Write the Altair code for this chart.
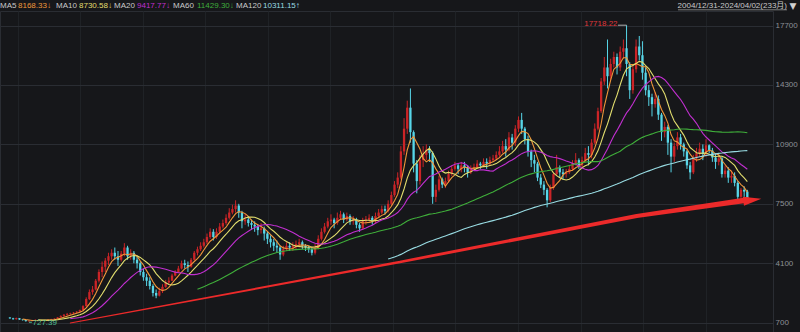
import altair as alt
import pandas as pd

# ---------------- data (monthly candles 2004/12 .. 2024/03) ----------------
first_open = 1000
closes_2004 = [950]
closes_2005 = [900, 960, 880, 850, 790, 800, 830, 860, 850, 820, 840, 870]
closes_2006 = [900, 930, 1000, 1080, 1150, 1200, 1230, 1280, 1330, 1420, 1650, 2050]
closes_2007 = [2450, 2600, 3100, 3600, 3900, 4250, 4500, 4700, 4500, 4300, 4650, 5000]
closes_2008 = [4500, 4700, 4300, 4100, 3600, 3300, 3100, 2800, 2400, 2250, 2500, 2750]
closes_2009 = [3000, 3100, 3400, 3600, 3800, 4100, 4000, 3900, 4300, 4700, 4900, 5100]
closes_2010 = [5300, 5600, 5900, 5600, 5900, 6200, 6400, 6700, 7000, 7200, 7400, 7000]
closes_2011 = [6500, 6600, 6400, 6300, 6200, 6000, 6100, 5800, 5500, 5300, 5100, 5000]
closes_2012 = [4600, 4900, 5100, 5000, 5100, 5200, 5300, 5100, 5000, 4900, 4700, 5000]
closes_2013 = [5500, 5900, 6200, 6500, 6600, 6400, 6700, 6900, 6600, 6800, 6500, 6600]
closes_2014 = [6300, 6100, 6500, 6600, 6700, 6500, 6800, 7000, 7200, 7100, 7500, 8000]
closes_2015 = [8600, 9000, 10500, 11800, 13000, 11600, 9800, 8800, 10000, 10300, 10600, 10400]
closes_2016 = [7900, 8300, 8900, 8600, 8800, 9200, 9500, 9700, 9500, 9700, 9600, 9300]
closes_2017 = [9500, 9600, 9800, 9700, 9900, 9800, 10000, 10100, 10300, 10500, 10800, 10600]
closes_2018 = [11300, 11000, 11800, 12300, 11800, 11200, 10500, 10000, 9800, 9000, 8600, 8300]
closes_2019 = [7700, 8400, 9200, 9600, 9300, 9200, 9300, 9500, 9800, 10000, 9700, 10000]
closes_2020 = [10400, 10300, 11000, 11800, 12800, 14500, 15300, 14800, 15500, 15900, 15300, 16200]
closes_2021 = [16400, 15500, 14000, 15200, 16500, 16000, 15000, 14000, 13600, 13200, 13500, 12600]
closes_2022 = [11600, 11900, 11000, 10200, 10800, 11300, 10900, 10500, 9700, 9300, 10100, 10400]
closes_2023 = [10650, 10350, 10850, 10550, 10150, 9900, 10100, 9200, 9400, 9000, 9100, 8700]
closes_2024 = [7900, 8300, 8200, 7750]

highs_2004 = [1010]
highs_2005 = [980, 990, 970, 900, 860, 850, 860, 890, 880, 860, 860, 900]
highs_2006 = [920, 950, 1020, 1120, 1200, 1260, 1270, 1310, 1360, 1450, 1700, 2150]
highs_2007 = [2600, 2800, 3200, 3750, 4200, 4400, 4700, 4900, 5000, 4800, 4800, 5250]
highs_2008 = [5100, 4900, 4800, 4500, 4200, 3800, 3500, 3300, 2900, 2600, 2700, 2900]
highs_2009 = [3150, 3300, 3500, 3700, 3950, 4250, 4300, 4200, 4400, 4800, 5050, 5300]
highs_2010 = [5500, 5800, 6100, 6050, 6100, 6400, 6600, 6900, 7250, 7450, 7700, 7500]
highs_2011 = [7100, 6900, 6800, 6600, 6500, 6300, 6400, 6200, 5900, 5700, 5500, 5400]
highs_2012 = [5100, 5100, 5300, 5300, 5300, 5400, 5500, 5400, 5200, 5100, 5000, 5200]
highs_2013 = [5700, 6100, 6400, 6700, 6900, 6700, 7000, 7100, 7000, 7000, 6900, 6800]
highs_2014 = [6700, 6400, 6700, 6800, 6900, 6800, 7000, 7200, 7400, 7400, 7700, 8200]
highs_2015 = [8800, 9300, 10800, 12400, 13400, 14100, 11700, 10000, 10300, 10800, 10900, 10800]
highs_2016 = [10500, 8600, 9100, 9000, 9000, 9400, 9700, 9900, 9800, 9900, 9900, 9700]
highs_2017 = [9700, 9800, 10000, 9900, 10100, 10100, 10200, 10300, 10500, 10800, 11100, 11200]
highs_2018 = [11600, 11500, 12000, 12500, 12700, 11900, 11400, 10600, 10300, 9900, 9200, 8800]
highs_2019 = [8400, 8600, 9300, 10300, 9700, 9500, 9500, 9700, 10000, 10400, 10100, 10200]
highs_2020 = [10700, 10800, 11200, 12100, 13000, 14700, 15900, 16900, 15800, 16200, 16100, 16500]
highs_2021 = [16900, 17718.22, 15600, 15400, 16900, 17100, 16800, 15300, 14300, 13800, 13900, 13700]
highs_2022 = [12700, 12200, 12000, 11200, 11000, 11600, 11500, 11000, 10600, 9900, 10300, 10700]
highs_2023 = [11000, 10900, 11200, 10900, 10700, 10400, 10300, 10200, 9700, 9600, 9400, 9300]
highs_2024 = [8800, 8400, 8500, 8300]

lows_2004 = [920]
lows_2005 = [870, 880, 860, 820, 760, 727.39, 780, 820, 820, 800, 800, 830]
lows_2006 = [850, 880, 920, 990, 1050, 1110, 1150, 1190, 1250, 1300, 1400, 1620]
lows_2007 = [2000, 2300, 2550, 3000, 3300, 3600, 4000, 4300, 4300, 3950, 4200, 4500]
lows_2008 = [4300, 4300, 4100, 3800, 3400, 3100, 2800, 2600, 2200, 2100, 2200, 2400]
lows_2009 = [2700, 2900, 3100, 3350, 3550, 3750, 3800, 3600, 3850, 4250, 4550, 4800]
lows_2010 = [5000, 5200, 5500, 5400, 5500, 5800, 6100, 6300, 6600, 6900, 7000, 6700]
lows_2011 = [6100, 6300, 6200, 6000, 5900, 5700, 5800, 5400, 5200, 5000, 4800, 4700]
lows_2012 = [4300, 4500, 4800, 4800, 4800, 4900, 5000, 4900, 4800, 4700, 4550, 4600]
lows_2013 = [4900, 5400, 5800, 6100, 6300, 6100, 6300, 6600, 6400, 6500, 6300, 6300]
lows_2014 = [6100, 5900, 6000, 6300, 6500, 6300, 6400, 6700, 6900, 6900, 7000, 7400]
lows_2015 = [7900, 8400, 8900, 10300, 11500, 11000, 9300, 8100, 8600, 9600, 10000, 9900]
lows_2016 = [7500, 7600, 8200, 8400, 8400, 8700, 9100, 9400, 9200, 9300, 9300, 9000]
lows_2017 = [9200, 9400, 9500, 9500, 9600, 9500, 9700, 9900, 10000, 10200, 10400, 10200]
lows_2018 = [10500, 10600, 10800, 11600, 11500, 10900, 10200, 9600, 9300, 8800, 8400, 8000]
lows_2019 = [7300, 7600, 8300, 9100, 9000, 8900, 9000, 9200, 9400, 9700, 9500, 9600]
lows_2020 = [9900, 9700, 10100, 10900, 11700, 12700, 14300, 14100, 14600, 15300, 14900, 15100]
lows_2021 = [15800, 14800, 13500, 13800, 15000, 15700, 14600, 13700, 13100, 12500, 13000, 12300]
lows_2022 = [11100, 11300, 10300, 9300, 9900, 10600, 10600, 10200, 9500, 8900, 9200, 9900]
lows_2023 = [10200, 10000, 10200, 10400, 9900, 9500, 9700, 9000, 9000, 8700, 8700, 8500]
lows_2024 = [7600, 7700, 7900, 7700]

y_ticks = [700, 4100, 7500, 10900, 14300, 17700]
ma_names = ["MA5", "MA10", "MA20", "MA60", "MA120"]
ma_windows = [5, 10, 20, 60, 120]
ma_colors = ["#f0973a", "#e2de6e", "#c12fd0", "#3fae3a", "#98dbe2"]
header_values = ["8168.33\u2193", "8730.58\u2193", "9417.77\u2193", "11429.30\u2193", "10311.15\u2191"]
date_label = "2004/12/31-2024/04/02(233\u6708)"

# hand-drawn trend arrow (month index, value) and its pen width
arrow_i = [19.0, 122.7, 197.2, 232.0]
arrow_v = [680, 4172, 6803, 7718]
arrow_w = [1.0, 2.6, 4.2, 5.4]

# ---------------- build table ----------------
def cat(prefix):
    out = []
    for y in range(2004, 2025):
        out += globals()[f"{prefix}_{y}"]
    return out

closes = cat("closes")
highs = cat("highs")
lows = cat("lows")
opens = [first_open] + closes[:-1]
n = len(closes)
df = pd.DataFrame({"i": list(range(n)), "open": opens, "close": closes,
                   "high": highs, "low": lows})
df["high"] = df[["high", "open", "close"]].max(axis=1)
df["low"] = df[["low", "open", "close"]].min(axis=1)
for name, w in zip(ma_names, ma_windows):
    df[name] = df["close"].rolling(w).mean()

ma_long = df.melt(id_vars="i", value_vars=ma_names, var_name="ma", value_name="v").dropna()

# ---------------- layout ----------------
W, H = 773, 321
X_DOM = [-1.55, 238.5]
Y_DOM = [168, 18530]
BG = "#16171a"
RED = "#cb2427"
CYAN = "#57d6e8"
FONT = "Liberation Sans, Noto Sans CJK SC, DejaVu Sans"
FS = 8

xs = alt.Scale(domain=X_DOM, nice=False, zero=False)
ys = alt.Scale(domain=Y_DOM, nice=False, zero=False)
grid_vals = [X_DOM[0] + (13 + 31.67 * k) / W * (X_DOM[1] - X_DOM[0]) for k in range(24)]

x_enc = alt.X("i:Q", scale=xs, axis=alt.Axis(values=grid_vals, labels=False, ticks=False,
                                              domain=False, grid=True, gridColor="#1f2226",
                                              title=None))
up = "datum.close >= datum.open"

wicks = alt.Chart(df).mark_rule(strokeWidth=1).encode(
    x=x_enc,
    y=alt.Y("low:Q", scale=ys, axis=alt.Axis(orient="right", values=y_ticks, grid=True,
                                             gridColor="#2a2d33", ticks=False, domain=False,
                                             labelColor="#8d9197", labelFontSize=8,
                                             labelFont=FONT, labelPadding=2, format="d",
                                             labelAlign="left", title=None)),
    y2="high:Q",
    color=alt.condition(up, alt.value(RED), alt.value(CYAN)),
)
bodies = alt.Chart(df).mark_bar(size=2.3).encode(
    x="i:Q", y="open:Q", y2="close:Q",
    color=alt.condition(up, alt.value(RED), alt.value(CYAN)),
)
mas = alt.Chart(ma_long).mark_line(strokeWidth=1.1).encode(
    x="i:Q", y="v:Q",
    color=alt.Color("ma:N", scale=alt.Scale(domain=ma_names, range=ma_colors), legend=None),
    detail="ma:N",
)

arrow_df = pd.DataFrame({"i": arrow_i, "v": arrow_v, "w": arrow_w})
trend = alt.Chart(arrow_df).mark_trail(color="#ec2a2a").encode(
    x="i:Q", y="v:Q", size=alt.Size("w:Q", scale=None, legend=None), order="i:Q")
head = alt.Chart(arrow_df.tail(1)).mark_point(
    shape="M-1,-0.5L1,0L-1,0.5Z", filled=True, size=330, angle=352, opacity=1,
    color="#ec2a2a").encode(x="i:Q", y="v:Q", xOffset=alt.value(5))

imax = int(df["high"].idxmax())
imin = int(df["low"].idxmin())
max_df = pd.DataFrame({"i": [imax], "i0": [imax - 2.7], "v": [df["high"][imax]],
                       "t": [f"{df['high'][imax]:.2f}"]})
min_df = pd.DataFrame({"i": [imin], "i0": [imin + 0.9], "v": [df["low"][imin]],
                       "t": [f"{df['low'][imin]:.2f}"]})
max_rule = alt.Chart(max_df).mark_rule(color="#b0b0b0", strokeWidth=1).encode(
    x="i0:Q", x2="i:Q", y="v:Q")
max_text = alt.Chart(max_df).mark_text(align="right", baseline="middle", dx=-9, dy=-1,
                                       color="#e0383c", font=FONT, fontSize=FS).encode(
    x="i:Q", y="v:Q", text="t:N")
min_rule = alt.Chart(min_df).mark_rule(color="#4fbf95", strokeWidth=1).encode(
    x="i:Q", x2="i0:Q", y="v:Q")
min_text = alt.Chart(min_df).mark_text(align="left", baseline="middle", dx=3.5, dy=1,
                                       color="#4fbf95", font=FONT, fontSize=FS).encode(
    x="i:Q", y="v:Q", text="t:N")

one = pd.DataFrame({"a": [0]})
header_layers = []
label_x = [0, 56, 114, 173, 236]
value_x = [18, 79, 137, 197, 263]
for nm, vx, lx, val, col in zip(ma_names, value_x, label_x, header_values, ma_colors):
    header_layers.append(alt.Chart(one).mark_text(text=nm, align="left", baseline="middle",
                                                  color="#c9c9c9", font=FONT, fontSize=FS).encode(
        x=alt.value(lx), y=alt.value(-5.5)))
    header_layers.append(alt.Chart(one).mark_text(text=val, align="left", baseline="middle",
                                                  color=col, font=FONT, fontSize=FS).encode(
        x=alt.value(vx), y=alt.value(-5.5)))
header_layers.append(alt.Chart(one).mark_text(text=date_label, align="right", baseline="middle",
                                              color="#c9c9c9", font=FONT, fontSize=FS).encode(
    x=alt.value(787), y=alt.value(-5.5)))
header_layers.append(alt.Chart(one).mark_rule(color="#9a9a9a", strokeWidth=0.8).encode(
    x=alt.value(678), x2=alt.value(787), y=alt.value(-1.2)))
header_layers.append(alt.Chart(one).mark_text(text="\u25bc", align="center", baseline="middle",
                                              color="#d0d0d0", font="DejaVu Sans", fontSize=9).encode(
    x=alt.value(793), y=alt.value(-5.5)))

chart = alt.layer(wicks, bodies, mas, trend, head, max_rule, max_text, min_rule, min_text,
                  *header_layers).properties(
    width=W, height=H, background=BG,
    padding={"left": 0, "right": 800 - W, "top": 332 - H, "bottom": 0},
    autosize=alt.AutoSizeParams(type="none"),
).configure_view(stroke="#2a2d33", strokeWidth=1)

chart.save("out.html", embed_options={"renderer": "svg", "actions": False})
